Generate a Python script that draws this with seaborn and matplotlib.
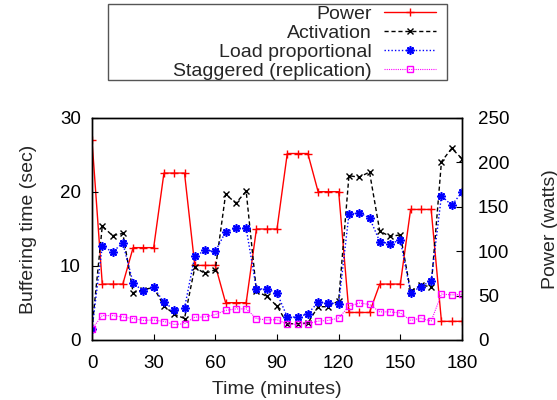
import matplotlib
matplotlib.use("Agg")
import matplotlib.pyplot as plt
import matplotlib.patches as mpatches
import seaborn as sns
import pandas as pd

time_min = list(range(0, 181, 5))
power_watts = [225, 63, 63, 63, 104, 104, 104, 188, 188, 188, 84, 84, 84, 42, 42, 42,
               125, 125, 125, 210, 210, 210, 167, 167, 167, 31, 31, 31, 63, 63, 63,
               147, 147, 147, 21, 21, 21]
activation = [1.5, 15.4, 14.1, 14.4, 6.4, 6.8, 7.1, 4.6, 3.5, 2.9, 9.8, 9.0, 9.5, 19.7, 18.5, 20.1,
              6.6, 5.9, 4.6, 2.2, 2.2, 2.3, 4.5, 4.5, 5.3, 22.2, 22.0, 22.7, 14.7, 14.0, 14.2,
              6.6, 7.4, 7.2, 24.1, 25.9, 24.5]
load_prop = [1.5, 12.7, 11.9, 13.1, 7.7, 6.6, 7.1, 5.1, 4.1, 4.3, 11.3, 12.1, 12.0, 14.6, 15.1, 15.1,
             6.9, 6.9, 6.35, 3.1, 3.1, 3.55, 5.1, 5.0, 4.9, 17.0, 17.2, 16.5, 13.3, 13.0, 13.5,
             6.4, 7.2, 8.0, 19.5, 18.2, 20.0]
staggered = [1.5, 3.3, 3.3, 3.1, 2.9, 2.65, 2.7, 2.5, 2.1, 2.2, 3.1, 3.1, 3.45, 4.0, 4.2, 4.2,
             2.9, 2.7, 2.75, 2.15, 2.1, 2.2, 2.55, 2.65, 2.97, 4.55, 5.0, 4.8, 3.8, 3.8, 3.65,
             2.65, 2.95, 2.55, 6.2, 6.1, 6.15]

x_ticks = [0, 30, 60, 90, 120, 150, 180]
y_ticks = [0, 10, 20, 30]
y2_ticks = [0, 50, 100, 150, 200, 250]

df = pd.DataFrame({"t": time_min, "power": power_watts, "act": activation,
                   "load": load_prop, "stag": staggered})

sns.set_theme(style="ticks")
plt.rcParams["font.family"] = ["Liberation Sans", "DejaVu Sans"]
plt.rcParams["xtick.direction"] = "in"
plt.rcParams["ytick.direction"] = "in"

W, H = 557, 400
fig = plt.figure(figsize=(5.57, 4.0), dpi=100)
ax = fig.add_axes([92/W, 1-340/H, (462-92)/W, (340-118)/H])
ax2 = ax.twinx()
ax.set_zorder(ax2.get_zorder() + 1)
ax.patch.set_visible(False)

sns.lineplot(data=df, x="t", y="power", ax=ax2, color="#ff0000", marker="+",
             markersize=6, markeredgewidth=1.0, markeredgecolor="#ff0000",
             linewidth=1.0, label="Power", legend=False)
sns.lineplot(data=df, x="t", y="act", ax=ax, color="black", marker="x",
             markersize=5, markeredgewidth=1.0, markeredgecolor="black",
             linewidth=1.0, linestyle=(0, (3, 2)),
             label="Activation", legend=False)
sns.lineplot(data=df, x="t", y="load", ax=ax, color="#0000ff", marker=(8, 2, 0),
             markersize=6, markeredgewidth=1.2, markeredgecolor="#0000ff",
             linewidth=1.0, linestyle=(0, (1, 1.5)),
             label="Load proportional", legend=False)
sns.lineplot(data=df, x="t", y="stag", ax=ax, color="#ff00ff", marker="s",
             markerfacecolor="none", markeredgecolor="#ff00ff",
             markersize=5, markeredgewidth=1.0, linewidth=0.8, linestyle=(0, (1, 1)),
             label="Staggered (replication)", legend=False)

ax.set_xlim(0, 180)
ax.set_ylim(0, 30)
ax2.set_ylim(0, 250)
ax.set_xticks(x_ticks)
ax.set_yticks(y_ticks)
ax2.set_yticks(y2_ticks)
ax.tick_params(labelsize=13.5, length=4, width=0.8, colors="black")
ax2.tick_params(labelsize=13.5, length=4, width=0.8, colors="black", pad=11.5)
ax.tick_params(axis="x", pad=11)
ax.tick_params(axis="y", pad=8)
for a in (ax, ax2):
    for s in a.spines.values():
        s.set_visible(True)
        s.set_color("black")
        s.set_linewidth(1.0)

ax.set_xlabel("Time (minutes)", fontsize=14)
ax.set_ylabel("Buffering time (sec)", fontsize=14)
ax2.set_ylabel("Power (watts)", fontsize=14)
ax.xaxis.set_label_coords(0.5, -0.185)
ax.yaxis.set_label_coords(-0.149, 0.5)
ax2.yaxis.set_label_coords(1.215, 0.5)

h1, l1 = ax2.get_legend_handles_labels()
h2, l2 = ax.get_legend_handles_labels()
leg = fig.legend(h1 + h2, l1 + l2, loc="upper right", bbox_to_anchor=(436/W, 1-5/H),
                 markerfirst=False, fontsize=14, frameon=False,
                 handlelength=2.68, labelspacing=0.08,
                 borderpad=0, handletextpad=0.62, borderaxespad=0)
for t in leg.get_texts():
    t.set_ha("right")
frame = mpatches.Rectangle((108/W, 1-80/H), (447-108)/W, 76/H, transform=fig.transFigure,
                           fill=False, edgecolor="#555555", linewidth=1.0)
fig.patches.append(frame)

fig.savefig("out.png", dpi=100)
